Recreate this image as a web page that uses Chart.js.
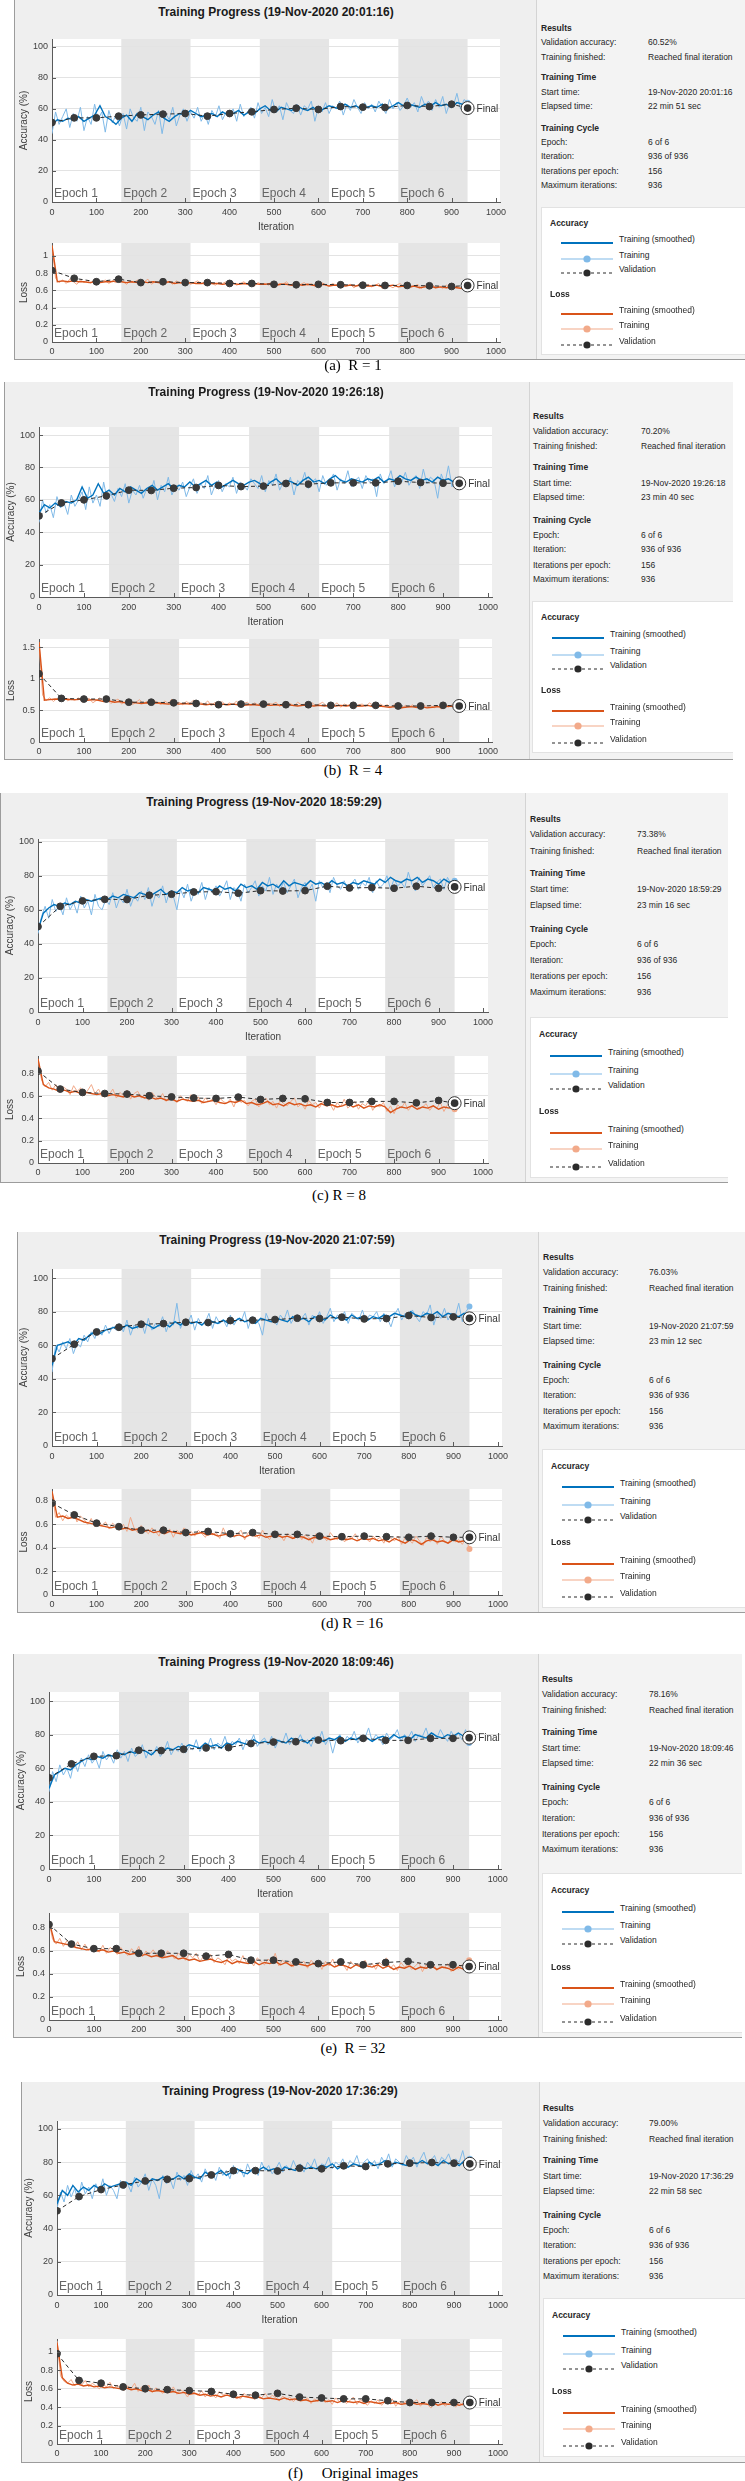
<!DOCTYPE html>
<html>
<head>
<meta charset="utf-8">
<title>Training Progress</title>
<script src="https://cdn.jsdelivr.net/npm/chart.js@4.4.1/dist/chart.umd.min.js"></script>
<style>
  body { margin: 0; width: 745px; height: 2481px; position: relative; overflow: hidden; background: #fff;
         font-family: 'Liberation Sans', Arial, sans-serif; }
  .panel { position: absolute; background: #efefef; overflow: hidden; box-sizing: border-box;
           border-left: 1px solid #9c9c9c; border-bottom: 1px solid #9c9c9c; }
  .pane { position: absolute; top: 0; bottom: 0; right: 0; background: #f3f3f3; border-left: 1px solid #d4d4d4; }
  .title { position: absolute; font-weight: bold; font-size: 12px; color: #1a1a1a; white-space: nowrap;
           transform: translate(-50%, -50%); }
  .info { position: absolute; font-size: 8.5px; color: #262626; white-space: nowrap; transform: translateY(-50%); }
  .info.b { font-weight: bold; }
  .legend { position: absolute; background: #fff; border: 1px solid #e2e2e2; box-sizing: border-box; }
  .glyph { position: absolute; }
  .caption { position: absolute; font-family: 'Liberation Serif', 'Times New Roman', serif; font-size: 15px;
             color: #000; white-space: pre; transform: translate(-50%, -50%); }
  canvas { position: absolute; }
</style>
</head>
<body>
<script>
// iterations
const rawStep = 8;
const smoothStep = 12;
const valIterations = [0, 50, 100, 150, 200, 250, 300, 350, 400, 450, 500, 550, 600, 650, 700, 750, 800, 850, 900, 936];
const epochBounds = [0, 156, 312, 468, 624, 780, 936];
const epochNames = ['Epoch 1', 'Epoch 2', 'Epoch 3', 'Epoch 4', 'Epoch 5', 'Epoch 6'];
const iterTicks = [0, 100, 200, 300, 400, 500, 600, 700, 800, 900, 1000];
const accTicks = [0, 20, 40, 60, 80, 100];
const lossTicksA = [0, 0.2, 0.4, 0.6, 0.8, 1];
const lossTicksB = [0, 0.5, 1, 1.5];
const lossTicksC = [0, 0.2, 0.4, 0.6, 0.8];

// (a) R = 1
const accTrainA = [
  44, 58, 50, 55, 60, 48, 57, 52, 61, 46,
  55, 50, 63, 53, 58, 45, 59, 51, 56, 49,
  57, 47, 60, 54, 52, 61, 46, 58, 55, 50,
  59, 44, 57, 53, 61, 49, 56, 60, 52, 58,
  54, 61, 52, 57, 50, 59, 55, 62, 53, 58,
  56, 60, 52, 63, 55, 58, 61, 54, 64, 57,
  61, 55, 66, 58, 62, 53, 64, 59, 57, 63,
  56, 62, 60, 65, 52, 61, 58, 64, 57, 62,
  60, 65, 56, 63, 59, 66, 61, 57, 64, 60,
  63, 58, 65, 61, 57, 66, 60, 64, 59, 62,
  67, 61, 64, 58, 68, 62, 65, 59, 66, 61,
  68, 57, 64, 62, 70, 60, 66, 64];
const accSmoothA = [
  50, 53, 52, 54, 53, 55, 52, 54, 56, 62,
  55, 53, 50, 54, 56, 52, 57, 55, 53, 56,
  58, 54, 52, 55, 57, 56, 59, 57, 55, 56,
  57, 55, 58, 56, 57, 59, 56, 58, 57, 60,
  62, 59, 58, 61, 60, 59, 62, 60, 59, 61,
  58, 60, 62, 61, 60, 63, 61, 62, 60, 61,
  62, 61, 63, 60, 62, 64, 62, 63, 62, 61,
  63, 62, 64, 62, 63, 61, 64, 63, 64];
const accValA = [51.2, 54.2, 54.2, 55.3, 56.1, 56.6, 57.0, 55.3, 57.0, 58.1, 59.6, 60.4, 59.6, 61.5, 61.1, 60.9, 62.2, 61.5, 63.0, 60.5];
const lossTrainA = [
  1.12, 0.74, 0.69, 0.72, 0.68, 0.73, 0.70, 0.67, 0.72, 0.69,
  0.71, 0.68, 0.73, 0.69, 0.70, 0.72, 0.68, 0.71, 0.69, 0.72,
  0.70, 0.67, 0.71, 0.69, 0.72, 0.68, 0.70, 0.73, 0.67, 0.70,
  0.69, 0.71, 0.68, 0.70, 0.67, 0.71, 0.69, 0.68, 0.70, 0.67,
  0.69, 0.71, 0.68, 0.67, 0.70, 0.68, 0.66, 0.69, 0.68, 0.70,
  0.67, 0.69, 0.66, 0.68, 0.70, 0.67, 0.68, 0.65, 0.69, 0.67,
  0.68, 0.66, 0.69, 0.65, 0.68, 0.67, 0.70, 0.66, 0.68, 0.65,
  0.67, 0.69, 0.66, 0.68, 0.64, 0.67, 0.69, 0.66, 0.65, 0.68,
  0.66, 0.64, 0.68, 0.65, 0.67, 0.63, 0.66, 0.69, 0.65, 0.67,
  0.64, 0.66, 0.68, 0.62, 0.67, 0.65, 0.63, 0.66, 0.68, 0.64,
  0.66, 0.63, 0.65, 0.67, 0.62, 0.66, 0.64, 0.67, 0.63, 0.65,
  0.62, 0.66, 0.64, 0.61, 0.65, 0.63, 0.66, 0.64];
const lossSmoothA = [
  1.12, 0.70, 0.71, 0.70, 0.71, 0.70, 0.70, 0.69, 0.70, 0.69,
  0.70, 0.70, 0.71, 0.70, 0.69, 0.70, 0.69, 0.70, 0.69, 0.70,
  0.69, 0.69, 0.70, 0.68, 0.69, 0.68, 0.69, 0.68, 0.68, 0.69,
  0.68, 0.68, 0.67, 0.68, 0.68, 0.67, 0.68, 0.67, 0.68, 0.67,
  0.67, 0.68, 0.66, 0.67, 0.67, 0.66, 0.67, 0.66, 0.67, 0.66,
  0.66, 0.67, 0.65, 0.66, 0.66, 0.65, 0.66, 0.65, 0.66, 0.65,
  0.65, 0.66, 0.64, 0.65, 0.66, 0.64, 0.65, 0.64, 0.65, 0.63,
  0.64, 0.65, 0.63, 0.64, 0.63, 0.64, 0.63, 0.62, 0.64];
const lossValA = [0.83, 0.74, 0.70, 0.73, 0.69, 0.70, 0.69, 0.69, 0.68, 0.68, 0.67, 0.665, 0.67, 0.665, 0.66, 0.657, 0.657, 0.653, 0.645, 0.657];

// (b) R = 4
const accTrainB = [
  46, 60, 52, 57, 49, 62, 55, 58, 51, 63,
  56, 60, 65, 54, 68, 58, 63, 56, 71, 60,
  64, 59, 67, 62, 70, 58, 66, 63, 69, 61,
  67, 64, 72, 60, 69, 65, 74, 63, 68, 66,
  71, 62, 68, 73, 64, 70, 67, 75, 63, 69,
  72, 65, 70, 68, 74, 64, 71, 69, 66, 73,
  70, 67, 75, 65, 72, 69, 76, 66, 71, 68,
  74, 63, 72, 70, 77, 67, 71, 73, 65, 75,
  69, 72, 76, 66, 73, 70, 78, 68, 72, 74,
  67, 75, 71, 73, 62, 76, 70, 72, 78, 68,
  74, 71, 77, 69, 73, 75, 67, 79, 70, 74,
  72, 61, 76, 70, 81, 68, 74, 72];
const accSmoothB = [
  52, 57, 55, 58, 56, 59, 58, 60, 68, 61,
  63, 70, 64, 66, 63, 67, 65, 68, 66, 64,
  67, 69, 66, 68, 70, 67, 69, 68, 71, 68,
  70, 72, 69, 71, 68, 70, 72, 70, 69, 71,
  72, 70, 68, 71, 73, 70, 72, 71, 69, 72,
  74, 71, 72, 70, 73, 75, 72, 71, 73, 72,
  71, 73, 72, 74, 71, 73, 72, 75, 73, 72,
  74, 72, 73, 71, 74, 72, 73, 71, 74];
const accValB = [50.1, 58.1, 60.0, 62.5, 66.0, 65.8, 67.2, 67.6, 68.9, 68.2, 68.5, 70.1, 69.7, 70.5, 70.5, 70.5, 71.5, 70.7, 70.3, 70.2];
const lossTrainB = [
  1.58, 0.74, 0.66, 0.70, 0.64, 0.69, 0.67, 0.71, 0.65, 0.68,
  0.66, 0.70, 0.63, 0.67, 0.69, 0.62, 0.66, 0.70, 0.64, 0.67,
  0.61, 0.65, 0.68, 0.60, 0.64, 0.66, 0.59, 0.63, 0.67, 0.61,
  0.64, 0.60, 0.66, 0.62, 0.59, 0.65, 0.61, 0.68, 0.60, 0.63,
  0.59, 0.64, 0.61, 0.66, 0.58, 0.62, 0.60, 0.65, 0.57, 0.63,
  0.60, 0.64, 0.58, 0.62, 0.59, 0.65, 0.57, 0.61, 0.63, 0.58,
  0.62, 0.59, 0.64, 0.57, 0.61, 0.60, 0.63, 0.56, 0.62, 0.59,
  0.61, 0.57, 0.63, 0.59, 0.60, 0.56, 0.62, 0.58, 0.60, 0.63,
  0.57, 0.60, 0.58, 0.62, 0.55, 0.60, 0.58, 0.61, 0.56, 0.59,
  0.60, 0.56, 0.62, 0.58, 0.55, 0.60, 0.57, 0.59, 0.54, 0.60,
  0.57, 0.53, 0.58, 0.55, 0.59, 0.54, 0.57, 0.60, 0.55, 0.58,
  0.54, 0.57, 0.52, 0.58, 0.55, 0.59, 0.56, 0.58];
const lossSmoothB = [
  1.58, 0.66, 0.67, 0.68, 0.67, 0.68, 0.67, 0.67, 0.68, 0.66,
  0.67, 0.66, 0.64, 0.65, 0.63, 0.64, 0.62, 0.63, 0.62, 0.61,
  0.62, 0.61, 0.62, 0.61, 0.60, 0.61, 0.60, 0.61, 0.60, 0.61,
  0.60, 0.59, 0.60, 0.59, 0.60, 0.59, 0.60, 0.59, 0.58, 0.59,
  0.59, 0.58, 0.59, 0.58, 0.59, 0.58, 0.59, 0.58, 0.57, 0.58,
  0.58, 0.57, 0.58, 0.57, 0.58, 0.57, 0.58, 0.57, 0.58, 0.57,
  0.57, 0.58, 0.56, 0.57, 0.56, 0.55, 0.56, 0.54, 0.55, 0.56,
  0.55, 0.56, 0.54, 0.55, 0.56, 0.55, 0.57, 0.56, 0.57];
const lossValB = [1.08, 0.69, 0.68, 0.68, 0.63, 0.63, 0.62, 0.61, 0.59, 0.60, 0.60, 0.59, 0.59, 0.58, 0.58, 0.58, 0.57, 0.57, 0.58, 0.57];

// (c) R = 8
const accTrainC = [
  46, 56, 62, 55, 66, 59, 63, 57, 67, 60,
  64, 58, 68, 61, 65, 57, 69, 62, 60, 66,
  63, 70, 61, 67, 64, 72, 62, 68, 65, 71,
  66, 73, 62, 69, 67, 74, 64, 71, 68, 60,
  72, 67, 75, 65, 71, 69, 76, 66, 73, 70,
  74, 68, 72, 77, 66, 73, 71, 65, 75, 70,
  73, 77, 68, 74, 71, 79, 69, 75, 72, 76,
  70, 74, 78, 67, 73, 76, 71, 75, 65, 77,
  73, 76, 70, 79, 74, 72, 77, 71, 75, 78,
  72, 76, 74, 79, 70, 77, 73, 75, 80, 72,
  78, 74, 76, 73, 82, 75, 71, 79, 74, 77,
  80, 73, 76, 78, 72, 79, 75, 77];
const accSmoothC = [
  48, 58, 61, 63, 62, 64, 63, 65, 64, 66,
  65, 66, 67, 66, 68, 67, 69, 68, 67, 70,
  69, 68, 70, 72, 69, 71, 70, 73, 71, 72,
  70, 73, 72, 71, 74, 72, 73, 71, 75, 73,
  74, 72, 76, 74, 75, 73, 77, 74, 76, 75,
  74, 77, 75, 76, 74, 77, 75, 76, 74, 76,
  75, 77, 76, 75, 78, 76, 79, 77, 76, 78,
  77, 79, 76, 78, 77, 75, 78, 76, 77];
const accValC = [50.1, 62.0, 65.2, 66.1, 66.0, 68.5, 69.1, 70.4, 70.6, 69.7, 71.2, 71.0, 71.2, 73.8, 72.8, 73.0, 72.6, 73.8, 72.6, 73.4];
const lossTrainC = [
  0.93, 0.74, 0.68, 0.72, 0.65, 0.70, 0.63, 0.68, 0.66, 0.61,
  0.69, 0.64, 0.67, 0.60, 0.65, 0.70, 0.62, 0.66, 0.59, 0.64,
  0.61, 0.66, 0.58, 0.63, 0.60, 0.65, 0.57, 0.62, 0.64, 0.58,
  0.61, 0.56, 0.63, 0.59, 0.57, 0.62, 0.55, 0.60, 0.58, 0.54,
  0.60, 0.57, 0.55, 0.61, 0.56, 0.59, 0.53, 0.58, 0.55, 0.57,
  0.52, 0.58, 0.55, 0.53, 0.57, 0.50, 0.59, 0.54, 0.56, 0.51,
  0.55, 0.57, 0.50, 0.54, 0.58, 0.52, 0.55, 0.49, 0.56, 0.53,
  0.51, 0.55, 0.58, 0.50, 0.53, 0.48, 0.56, 0.52, 0.54, 0.49,
  0.55, 0.51, 0.53, 0.47, 0.54, 0.50, 0.57, 0.49, 0.52, 0.55,
  0.48, 0.53, 0.51, 0.56, 0.47, 0.52, 0.50, 0.54, 0.46, 0.51,
  0.44, 0.52, 0.49, 0.54, 0.47, 0.51, 0.55, 0.48, 0.50, 0.53,
  0.47, 0.51, 0.49, 0.54, 0.46, 0.52, 0.50, 0.48];
const lossSmoothC = [
  0.93, 0.70, 0.67, 0.66, 0.64, 0.65, 0.63, 0.64, 0.62, 0.63,
  0.62, 0.61, 0.62, 0.60, 0.61, 0.60, 0.59, 0.61, 0.59, 0.60,
  0.58, 0.59, 0.57, 0.58, 0.56, 0.57, 0.55, 0.57, 0.56, 0.55,
  0.56, 0.54, 0.55, 0.56, 0.54, 0.53, 0.55, 0.54, 0.56, 0.53,
  0.54, 0.52, 0.53, 0.55, 0.52, 0.53, 0.51, 0.54, 0.52, 0.53,
  0.51, 0.52, 0.50, 0.53, 0.51, 0.52, 0.50, 0.51, 0.53, 0.50,
  0.52, 0.49, 0.51, 0.50, 0.52, 0.50, 0.45, 0.48, 0.50, 0.49,
  0.51, 0.48, 0.50, 0.49, 0.51, 0.48, 0.50, 0.49, 0.52];
const lossValC = [0.82, 0.66, 0.63, 0.62, 0.615, 0.60, 0.59, 0.58, 0.576, 0.588, 0.567, 0.576, 0.573, 0.54, 0.54, 0.55, 0.55, 0.537, 0.558, 0.534];

// (d) R = 16
const accTrainD = [
  44, 60, 56, 62, 58, 64, 55, 61, 59, 66,
  62, 68, 64, 70, 66, 72, 67, 71, 69, 73,
  68, 75, 66, 72, 70, 74, 67, 76, 69, 73,
  71, 77, 68, 74, 72, 85, 70, 75, 73, 78,
  69, 76, 72, 74, 79, 70, 77, 73, 75, 71,
  78, 72, 76, 74, 80, 70, 77, 75, 73, 66,
  79, 74, 76, 72, 78, 75, 81, 73, 77, 74,
  76, 79, 72, 78, 75, 80, 73, 77, 82, 74,
  78, 76, 80, 73, 79, 77, 75, 81, 74, 78,
  77, 80, 74, 79, 76, 71, 78, 82, 75, 79,
  76, 81, 77, 74, 80, 78, 84, 72, 79, 76,
  82, 75, 79, 77, 85, 74, 80, 83];
const accSmoothD = [
  48, 60, 61, 62, 60, 64, 63, 66, 68, 67,
  69, 70, 71, 70, 72, 70, 71, 73, 72, 70,
  72, 73, 71, 74, 72, 75, 73, 74, 72, 75,
  74, 73, 75, 73, 74, 76, 74, 75, 73, 76,
  75, 74, 76, 75, 74, 77, 75, 76, 74, 77,
  76, 75, 78, 76, 77, 75, 78, 76, 77, 75,
  77, 76, 78, 77, 79, 78, 77, 80, 78, 77,
  79, 78, 80, 77, 79, 78, 77, 79, 78];
const accValD = [52.0, 60.6, 67.9, 70.7, 72.5, 72.9, 73.7, 73.5, 74.7, 74.9, 75.3, 76.1, 75.9, 76.7, 75.7, 75.9, 77.7, 76.5, 76.9, 76.0];
const lossTrainD = [
  0.88, 0.66, 0.70, 0.63, 0.68, 0.65, 0.71, 0.62, 0.67, 0.64,
  0.60, 0.65, 0.58, 0.63, 0.59, 0.62, 0.56, 0.61, 0.58, 0.55,
  0.60, 0.54, 0.66, 0.57, 0.53, 0.59, 0.55, 0.52, 0.57, 0.54,
  0.50, 0.58, 0.53, 0.56, 0.49, 0.55, 0.52, 0.57, 0.51, 0.54,
  0.50, 0.55, 0.52, 0.49, 0.56, 0.51, 0.53, 0.48, 0.57, 0.50,
  0.54, 0.49, 0.52, 0.55, 0.47, 0.53, 0.50, 0.52, 0.48, 0.55,
  0.50, 0.47, 0.53, 0.49, 0.51, 0.46, 0.52, 0.50, 0.48, 0.53,
  0.47, 0.51, 0.49, 0.44, 0.52, 0.48, 0.50, 0.46, 0.53, 0.49,
  0.47, 0.51, 0.45, 0.50, 0.48, 0.52, 0.46, 0.49, 0.51, 0.45,
  0.50, 0.47, 0.49, 0.44, 0.51, 0.48, 0.46, 0.50, 0.43, 0.49,
  0.47, 0.44, 0.50, 0.46, 0.42, 0.49, 0.45, 0.48, 0.43, 0.50,
  0.46, 0.44, 0.49, 0.45, 0.47, 0.43, 0.48, 0.39];
const lossSmoothD = [
  0.88, 0.66, 0.67, 0.65, 0.66, 0.64, 0.62, 0.61, 0.60, 0.59,
  0.58, 0.57, 0.58, 0.56, 0.57, 0.55, 0.56, 0.54, 0.55, 0.53,
  0.54, 0.52, 0.54, 0.53, 0.52, 0.53, 0.51, 0.52, 0.53, 0.51,
  0.52, 0.50, 0.51, 0.52, 0.50, 0.51, 0.49, 0.51, 0.50, 0.51,
  0.49, 0.50, 0.51, 0.49, 0.50, 0.48, 0.50, 0.49, 0.47, 0.49,
  0.48, 0.49, 0.47, 0.48, 0.49, 0.47, 0.48, 0.46, 0.48, 0.47,
  0.48, 0.46, 0.47, 0.45, 0.48, 0.46, 0.44, 0.47, 0.46, 0.43,
  0.46, 0.47, 0.45, 0.46, 0.44, 0.47, 0.45, 0.46, 0.45];
const lossValD = [0.78, 0.68, 0.61, 0.58, 0.55, 0.55, 0.53, 0.54, 0.52, 0.53, 0.515, 0.515, 0.50, 0.495, 0.50, 0.495, 0.49, 0.50, 0.49, 0.49];

// (e) R = 32
const accTrainE = [
  46, 58, 52, 62, 56, 60, 54, 64, 58, 66,
  61, 68, 63, 66, 60, 70, 65, 68, 63, 71,
  66, 70, 64, 72, 67, 69, 74, 66, 71, 68,
  73, 67, 70, 76, 68, 72, 70, 75, 69, 73,
  71, 77, 70, 74, 72, 78, 71, 75, 73, 79,
  72, 76, 74, 78, 71, 77, 75, 80, 73, 76,
  78, 74, 79, 72, 77, 75, 81, 74, 78, 76,
  80, 75, 77, 73, 79, 76, 82, 74, 78, 69,
  77, 80, 75, 79, 77, 82, 75, 79, 78, 84,
  76, 80, 78, 74, 81, 77, 79, 83, 76, 80,
  78, 82, 76, 80, 79, 84, 77, 81, 78, 83,
  79, 76, 82, 78, 81, 77, 83, 75];
const accSmoothE = [
  48, 56, 58, 60, 59, 62, 64, 66, 65, 67,
  66, 68, 67, 69, 68, 70, 69, 71, 70, 68,
  71, 70, 72, 71, 73, 72, 74, 73, 72, 75,
  73, 74, 72, 75, 74, 76, 75, 74, 77, 75,
  76, 75, 77, 76, 75, 78, 76, 77, 75, 78,
  77, 76, 78, 77, 79, 76, 78, 77, 79, 78,
  76, 78, 79, 77, 80, 78, 79, 77, 80, 79,
  78, 81, 79, 78, 80, 79, 81, 79, 80];
const accValE = [54.3, 62.6, 67.1, 67.5, 70.7, 70.5, 71.3, 72.1, 72.3, 74.7, 75.6, 75.8, 76.8, 76.4, 77.8, 76.6, 76.6, 77.8, 77.8, 78.2];
const lossTrainE = [
  0.86, 0.70, 0.66, 0.71, 0.64, 0.69, 0.66, 0.63, 0.68, 0.61,
  0.66, 0.60, 0.64, 0.62, 0.59, 0.65, 0.58, 0.63, 0.61, 0.57,
  0.63, 0.59, 0.56, 0.62, 0.58, 0.64, 0.55, 0.60, 0.57, 0.61,
  0.56, 0.59, 0.54, 0.60, 0.57, 0.53, 0.58, 0.55, 0.52, 0.57,
  0.54, 0.58, 0.51, 0.55, 0.53, 0.57, 0.50, 0.54, 0.52, 0.48,
  0.55, 0.51, 0.53, 0.49, 0.56, 0.50, 0.52, 0.47, 0.54, 0.51,
  0.48, 0.53, 0.50, 0.58, 0.47, 0.52, 0.49, 0.51, 0.46, 0.53,
  0.49, 0.51, 0.45, 0.52, 0.48, 0.50, 0.44, 0.51, 0.47, 0.53,
  0.46, 0.50, 0.48, 0.43, 0.51, 0.47, 0.49, 0.45, 0.52, 0.46,
  0.49, 0.44, 0.50, 0.47, 0.54, 0.45, 0.48, 0.43, 0.50, 0.46,
  0.48, 0.44, 0.47, 0.50, 0.42, 0.48, 0.45, 0.49, 0.43, 0.47,
  0.45, 0.49, 0.42, 0.47, 0.44, 0.48, 0.43, 0.52];
const lossSmoothE = [
  0.86, 0.68, 0.67, 0.66, 0.65, 0.63, 0.62, 0.61, 0.62, 0.60,
  0.61, 0.59, 0.60, 0.58, 0.59, 0.57, 0.58, 0.56, 0.57, 0.55,
  0.56, 0.54, 0.55, 0.56, 0.53, 0.54, 0.52, 0.53, 0.51, 0.52,
  0.53, 0.51, 0.50, 0.52, 0.49, 0.51, 0.50, 0.49, 0.51, 0.48,
  0.50, 0.49, 0.51, 0.48, 0.50, 0.47, 0.49, 0.48, 0.47, 0.49,
  0.48, 0.47, 0.49, 0.46, 0.48, 0.47, 0.45, 0.48, 0.46, 0.47,
  0.46, 0.48, 0.45, 0.47, 0.44, 0.46, 0.45, 0.47, 0.44, 0.46,
  0.45, 0.47, 0.44, 0.46, 0.45, 0.43, 0.46, 0.44, 0.45];
const lossValE = [0.83, 0.66, 0.62, 0.62, 0.58, 0.58, 0.58, 0.555, 0.57, 0.52, 0.52, 0.505, 0.49, 0.505, 0.48, 0.50, 0.51, 0.48, 0.48, 0.465];

// (f) original images
const accTrainF = [
  52, 62, 56, 66, 59, 64, 57, 68, 61, 65,
  58, 67, 62, 70, 60, 66, 63, 58, 69, 64,
  67, 62, 71, 65, 68, 73, 63, 70, 66, 58,
  72, 67, 70, 64, 74, 69, 72, 66, 75, 70,
  73, 68, 76, 71, 74, 69, 77, 72, 75, 70,
  78, 73, 76, 71, 79, 74, 77, 72, 80, 75,
  78, 73, 76, 80, 74, 78, 75, 81, 76, 79,
  74, 80, 77, 82, 75, 79, 78, 83, 76, 80,
  78, 82, 76, 81, 79, 84, 77, 80, 82, 78,
  81, 76, 83, 79, 85, 77, 82, 80, 78, 84,
  80, 83, 77, 82, 86, 79, 81, 84, 78, 83,
  81, 85, 79, 82, 80, 87, 78, 82];
const accSmoothF = [
  55, 63, 60, 66, 62, 65, 63, 66, 64, 67,
  65, 66, 67, 68, 66, 70, 68, 67, 70, 69,
  71, 69, 70, 72, 70, 73, 71, 70, 74, 72,
  73, 75, 72, 74, 76, 74, 73, 76, 75, 77,
  75, 76, 74, 77, 76, 75, 78, 76, 77, 76,
  78, 77, 79, 76, 78, 77, 79, 78, 77, 80,
  78, 79, 81, 78, 80, 79, 78, 80, 79, 81,
  79, 80, 78, 81, 79, 80, 78, 81, 80];
const accValF = [50.7, 59.3, 63.5, 66.3, 68.7, 69.7, 70.1, 72.3, 74.9, 74.9, 74.7, 76.4, 76.0, 77.8, 77.4, 79.0, 79.4, 79.8, 79.4, 79.0];
const lossTrainF = [
  1.12, 0.74, 0.68, 0.66, 0.70, 0.63, 0.67, 0.64, 0.69, 0.62,
  0.66, 0.63, 0.60, 0.65, 0.62, 0.67, 0.60, 0.64, 0.61, 0.58,
  0.63, 0.60, 0.66, 0.57, 0.62, 0.59, 0.64, 0.56, 0.61, 0.58,
  0.55, 0.60, 0.57, 0.62, 0.54, 0.59, 0.56, 0.51, 0.58, 0.55,
  0.53, 0.58, 0.51, 0.56, 0.54, 0.50, 0.57, 0.53, 0.55, 0.51,
  0.57, 0.52, 0.49, 0.55, 0.51, 0.54, 0.48, 0.53, 0.50, 0.55,
  0.49, 0.53, 0.50, 0.47, 0.52, 0.48, 0.51, 0.46, 0.50, 0.53,
  0.47, 0.50, 0.44, 0.49, 0.46, 0.51, 0.45, 0.48, 0.43, 0.50,
  0.46, 0.49, 0.44, 0.47, 0.51, 0.43, 0.48, 0.45, 0.42, 0.47,
  0.44, 0.48, 0.42, 0.46, 0.44, 0.49, 0.41, 0.46, 0.43, 0.47,
  0.42, 0.45, 0.48, 0.41, 0.46, 0.43, 0.39, 0.45, 0.42, 0.46,
  0.41, 0.44, 0.47, 0.40, 0.45, 0.42, 0.46, 0.43];
const lossSmoothF = [
  1.10, 0.72, 0.66, 0.64, 0.65, 0.63, 0.64, 0.62, 0.63, 0.61,
  0.62, 0.61, 0.60, 0.61, 0.59, 0.60, 0.58, 0.59, 0.57, 0.58,
  0.57, 0.56, 0.57, 0.55, 0.56, 0.54, 0.55, 0.53, 0.54, 0.52,
  0.53, 0.51, 0.53, 0.52, 0.50, 0.52, 0.51, 0.50, 0.51, 0.49,
  0.50, 0.49, 0.48, 0.50, 0.48, 0.49, 0.47, 0.48, 0.46, 0.47,
  0.48, 0.46, 0.47, 0.45, 0.47, 0.46, 0.45, 0.46, 0.44, 0.46,
  0.45, 0.44, 0.46, 0.44, 0.45, 0.43, 0.44, 0.45, 0.43, 0.44,
  0.43, 0.45, 0.42, 0.44, 0.43, 0.44, 0.42, 0.44, 0.43];
const lossValF = [0.98, 0.69, 0.66, 0.62, 0.60, 0.59, 0.58, 0.57, 0.54, 0.53, 0.55, 0.51, 0.50, 0.49, 0.49, 0.47, 0.45, 0.45, 0.45, 0.45];

const startTimes = ['19-Nov-2020 20:01:16', '19-Nov-2020 19:26:18', '19-Nov-2020 18:59:29',
                    '19-Nov-2020 21:07:59', '19-Nov-2020 18:09:46', '19-Nov-2020 17:36:29'];
const elapsedTimes = ['22 min 51 sec', '23 min 40 sec', '23 min 16 sec', '23 min 12 sec', '22 min 36 sec', '22 min 58 sec'];
const finalAccuracy = ['60.52%', '70.20%', '73.38%', '76.03%', '78.16%', '79.00%'];
const captions = ['(a)  R = 1', '(b)  R = 4', '(c) R = 8', '(d) R = 16', '(e)  R = 32', '(f)     Original images'];

// page layout, pixel positions of each figure window
const panels = [
  { box: [14, 0, 745, 360], pane: 535, title: [275, 12], L: 51, R: 499, xMax: 1009,
    acc: { T: 39, B: 202, yMax: 105 }, loss: { T: 243, B: 342, yMax: 1.15, ticks: lossTicksA },
    infoX: 540, valX: 647, infoY: 28, infoS: 1.0, legend: [540, 207, 745, 355], caption: [353, 365],
    accTrain: accTrainA, accSmooth: accSmoothA, accVal: accValA, lossTrain: lossTrainA, lossSmooth: lossSmoothA, lossVal: lossValA },
  { box: [4, 382, 733, 760], pane: 528, title: [265, 392], L: 38, R: 491, xMax: 1009,
    acc: { T: 427, B: 597, yMax: 105 }, loss: { T: 639, B: 742, yMax: 1.63, ticks: lossTicksB },
    infoX: 532, valX: 640, infoY: 416, infoS: 1.04, legend: [531, 601, 733, 753], caption: [353, 770],
    accTrain: accTrainB, accSmooth: accSmoothB, accVal: accValB, lossTrain: lossTrainB, lossSmooth: lossSmoothB, lossVal: lossValB },
  { box: [0, 793, 728, 1183], pane: 524, title: [263, 802], L: 37, R: 487, xMax: 1011,
    acc: { T: 839, B: 1012, yMax: 101.5 }, loss: { T: 1056, B: 1163, yMax: 0.955, ticks: lossTicksC },
    infoX: 529, valX: 636, infoY: 819, infoS: 1.10, legend: [529, 1017, 728, 1178], caption: [339, 1195],
    accTrain: accTrainC, accSmooth: accSmoothC, accVal: accValC, lossTrain: lossTrainC, lossSmooth: lossSmoothC, lossVal: lossValC },
  { box: [17, 1232, 745, 1613], pane: 537, title: [276, 1240], L: 51, R: 501, xMax: 1009,
    acc: { T: 1269, B: 1446, yMax: 105.4 }, loss: { T: 1489, B: 1595, yMax: 0.90, ticks: lossTicksC },
    infoX: 542, valX: 648, infoY: 1257, infoS: 1.077, legend: [541, 1449, 745, 1608], caption: [352, 1623],
    accTrain: accTrainD, accSmooth: accSmoothD, accVal: accValD, lossTrain: lossTrainD, lossSmooth: lossSmoothD, lossVal: lossValD },
  { box: [13, 1654, 742, 2038], pane: 537, title: [275, 1662], L: 48, R: 500, xMax: 1007,
    acc: { T: 1692, B: 1869, yMax: 105.4 }, loss: { T: 1913, B: 2020, yMax: 0.93, ticks: lossTicksC },
    infoX: 541, valX: 648, infoY: 1679, infoS: 1.083, legend: [541, 1873, 742, 2033], caption: [353, 2048],
    accTrain: accTrainE, accSmooth: accSmoothE, accVal: accValE, lossTrain: lossTrainE, lossSmooth: lossSmoothE, lossVal: lossValE },
  { box: [21, 2082, 745, 2463], pane: 538, title: [279, 2091], L: 56, R: 501, xMax: 1009,
    acc: { T: 2121, B: 2295, yMax: 104.8 }, loss: { T: 2339, B: 2444, yMax: 1.14, ticks: lossTicksA },
    infoX: 542, valX: 648, infoY: 2108, infoS: 1.07, legend: [542, 2298, 745, 2457], caption: [353, 2473],
    accTrain: accTrainF, accSmooth: accSmoothF, accVal: accValF, lossTrain: lossTrainF, lossSmooth: lossSmoothF, lossVal: lossValF }
];

const COLORS = {
  accSmooth: '#0072bd', accRaw: 'rgb(128,186,232)',
  lossSmooth: '#d95319', lossRaw: 'rgb(242,170,138)',
  val: '#2b2b2b', valPoint: '#3a3a3a'
};

Chart.defaults.font.family = "'Liberation Sans', Arial, sans-serif";

// shading of even epochs, epoch names, inner ticks and the "Final" marker
const epochPlugin = {
  id: 'epochs',
  beforeDraw(chart) {
    const { ctx, chartArea: a, scales: { x } } = chart;
    ctx.save();
    ctx.fillStyle = '#ffffff';
    ctx.fillRect(a.left, a.top, a.right - a.left, a.bottom - a.top);
    ctx.fillStyle = '#e5e5e5';
    for (let e = 1; e < epochBounds.length - 1; e += 2) {
      const x0 = x.getPixelForValue(epochBounds[e]);
      const x1 = x.getPixelForValue(epochBounds[e + 1]);
      ctx.fillRect(x0, a.top, x1 - x0, a.bottom - a.top);
    }
    ctx.restore();
  },
  afterDraw(chart) {
    const { ctx, chartArea: a, scales: { x, y } } = chart;
    ctx.save();
    ctx.strokeStyle = '#5a5a5a';
    ctx.lineWidth = 1;
    ctx.beginPath();
    iterTicks.forEach(v => {
      const px = Math.round(x.getPixelForValue(v)) + 0.5;
      ctx.moveTo(px, a.bottom); ctx.lineTo(px, a.bottom - 4);
    });
    y.ticks.forEach(t => {
      const py = Math.round(y.getPixelForValue(t.value)) + 0.5;
      ctx.moveTo(a.left, py); ctx.lineTo(a.left + 4, py);
    });
    ctx.stroke();

    ctx.fillStyle = '#656565';
    ctx.font = "12px 'Liberation Sans', Arial, sans-serif";
    ctx.textAlign = 'left';
    ctx.textBaseline = 'bottom';
    epochNames.forEach((name, i) => {
      ctx.fillText(name, x.getPixelForValue(epochBounds[i]) + 2, a.bottom - 2);
    });

    const meta = chart.getDatasetMeta(0);
    const last = meta.data[meta.data.length - 1];
    ctx.beginPath();
    ctx.arc(last.x, last.y, 6.5, 0, Math.PI * 2);
    ctx.fillStyle = '#ffffff';
    ctx.fill();
    ctx.strokeStyle = '#333';
    ctx.stroke();
    ctx.beginPath();
    ctx.arc(last.x, last.y, 3.8, 0, Math.PI * 2);
    ctx.fillStyle = '#333';
    ctx.fill();
    ctx.fillStyle = '#333';
    ctx.font = "10px 'Liberation Sans', Arial, sans-serif";
    ctx.textBaseline = 'middle';
    ctx.fillText('Final', last.x + 9, last.y + 1);
    ctx.restore();
  }
};

function makeChart(p, host, kind) {
  const isAcc = kind === 'acc';
  const part = isAcc ? p.acc : p.loss;
  const axisW = 38, padTop = 10, padRight = 14, axisH = 35;
  const w = p.R - p.L + axisW + padRight;
  const h = part.B - part.T + padTop + axisH;
  const cv = document.createElement('canvas');
  cv.width = w; cv.height = h;
  cv.style.width = w + 'px'; cv.style.height = h + 'px';
  cv.style.left = (p.L - axisW - p.box[0]) + 'px';
  cv.style.top = (part.T - padTop - p.box[1]) + 'px';
  host.appendChild(cv);

  const train = isAcc ? p.accTrain : p.lossTrain;
  const smooth = isAcc ? p.accSmooth : p.lossSmooth;
  const val = isAcc ? p.accVal : p.lossVal;
  const rawColor = isAcc ? COLORS.accRaw : COLORS.lossRaw;
  const yTicks = isAcc ? accTicks : part.ticks;

  return new Chart(cv.getContext('2d'), {
    type: 'line',
    data: {
      datasets: [
        {
          label: 'Validation',
          data: valIterations.map((it, i) => ({ x: it, y: val[i] })),
          borderColor: COLORS.val, borderWidth: 1, borderDash: [4, 3],
          pointRadius: 3.4, pointBackgroundColor: COLORS.valPoint, pointBorderColor: COLORS.valPoint,
          order: 0
        },
        {
          label: 'Training (smoothed)',
          data: smooth.map((v, i) => ({ x: i * smoothStep, y: v })),
          borderColor: isAcc ? COLORS.accSmooth : COLORS.lossSmooth, borderWidth: 1.4,
          pointRadius: 0, order: 1
        },
        {
          label: 'Training',
          data: train.map((v, i) => ({ x: i * rawStep, y: v })),
          borderColor: rawColor, borderWidth: 1,
          pointRadius: c => (c.dataIndex === train.length - 1 ? 3 : 0),
          pointBackgroundColor: rawColor, pointBorderWidth: 0, order: 2
        }
      ]
    },
    options: {
      responsive: false,
      animation: false,
      events: [],
      layout: { padding: { top: padTop, right: padRight, left: 0, bottom: 0 } },
      plugins: { legend: { display: false }, tooltip: { enabled: false } },
      scales: {
        x: {
          type: 'linear', min: 0, max: p.xMax,
          afterBuildTicks: s => { s.ticks = iterTicks.map(v => ({ value: v })); },
          afterFit: s => { s.height = axisH; },
          grid: { display: false, drawTicks: false },
          border: { display: true, color: '#5a5a5a' },
          ticks: { padding: isAcc ? 5 : 4, color: '#404040', font: { size: 9 }, maxRotation: 0, autoSkip: false,
                   callback: v => String(v) },
          title: { display: true, text: 'Iteration', color: '#404040', font: { size: 10 }, padding: { top: 0, bottom: 4 } }
        },
        y: {
          min: 0, max: part.yMax,
          afterBuildTicks: s => { s.ticks = yTicks.map(v => ({ value: v })); },
          afterFit: s => { s.width = axisW; },
          grid: { color: '#e3e3e3', drawTicks: false },
          border: { display: true, color: '#5a5a5a' },
          ticks: { padding: 4, color: '#404040', font: { size: 9 }, callback: v => String(+v.toFixed(2)) },
          title: { display: true, text: isAcc ? 'Accuracy (%)' : 'Loss', color: '#404040', font: { size: 10 },
                   padding: { top: 4, bottom: 0 } }
        }
      }
    },
    plugins: [epochPlugin]
  });
}

function glyph(type, color) {
  const dash = type === 'val' ? ' stroke-dasharray="3,3"' : '';
  const sw = type === 'smooth' ? 2 : 1.2;
  let s = '<svg width="54" height="10"><line x1="0" y1="5" x2="52" y2="5" stroke="' + color + '" stroke-width="' + sw + '"' + dash + '/>';
  if (type !== 'smooth') s += '<circle cx="26" cy="5" r="3.6" fill="' + color + '"/>';
  return s + '</svg>';
}

const infoRows = [
  ['Results', null, 0, true],
  ['Validation accuracy:', 'acc', 14],
  ['Training finished:', 'Reached final iteration', 29],
  ['Training Time', null, 49, true],
  ['Start time:', 'start', 64],
  ['Elapsed time:', 'elapsed', 78],
  ['Training Cycle', null, 100, true],
  ['Epoch:', '6 of 6', 114],
  ['Iteration:', '936 of 936', 128],
  ['Iterations per epoch:', '156', 143],
  ['Maximum iterations:', '936', 157]
];

const legendRows = [
  ['Accuracy', null, null, 0.10],
  ['Training (smoothed)', 'smooth', COLORS.accSmooth, 0.21],
  ['Training', 'raw', COLORS.accRaw, 0.32],
  ['Validation', 'val', COLORS.val, 0.415],
  ['Loss', null, null, 0.58],
  ['Training (smoothed)', 'smooth', COLORS.lossSmooth, 0.69],
  ['Training', 'raw', COLORS.lossRaw, 0.79],
  ['Validation', 'val', COLORS.val, 0.90]
];

function addDiv(parent, cls, x, y, html) {
  const d = document.createElement('div');
  d.className = cls;
  d.style.left = x + 'px';
  d.style.top = y + 'px';
  if (html !== undefined) d.innerHTML = html;
  parent.appendChild(d);
  return d;
}

panels.forEach((p, k) => {
  const [bx, by, bx2, by2] = p.box;
  const panel = addDiv(document.body, 'panel', bx, by);
  panel.style.width = (bx2 - bx) + 'px';
  panel.style.height = (by2 - by) + 'px';

  const pane = document.createElement('div');
  pane.className = 'pane';
  pane.style.left = (p.pane - bx) + 'px';
  panel.appendChild(pane);

  addDiv(panel, 'title', p.title[0] - bx, p.title[1] - by, 'Training Progress (' + startTimes[k] + ')');

  makeChart(p, panel, 'acc');
  makeChart(p, panel, 'loss');

  infoRows.forEach(([label, value, dy, bold]) => {
    const y = p.infoY + dy * p.infoS - by;
    addDiv(panel, bold ? 'info b' : 'info', p.infoX - bx, y, label);
    if (value) {
      const text = value === 'acc' ? finalAccuracy[k] : value === 'start' ? startTimes[k] : value === 'elapsed' ? elapsedTimes[k] : value;
      addDiv(panel, 'info', p.valX - bx, y, text);
    }
  });

  const [lx, ly, lx2, ly2] = p.legend;
  const lg = addDiv(panel, 'legend', lx - bx, ly - by);
  lg.style.width = (lx2 - lx) + 'px';
  lg.style.height = (ly2 - ly) + 'px';
  const lh = ly2 - ly;
  legendRows.forEach(([label, type, color, f]) => {
    const y = f * lh;
    if (!type) {
      addDiv(lg, 'info b', 8, y, label);
    } else {
      addDiv(lg, 'glyph', 19, y - 5, glyph(type, color));
      addDiv(lg, 'info', 77, y, label);
    }
  });

  addDiv(document.body, 'caption', p.caption[0], p.caption[1], captions[k]);
});
</script>
</body>
</html>
